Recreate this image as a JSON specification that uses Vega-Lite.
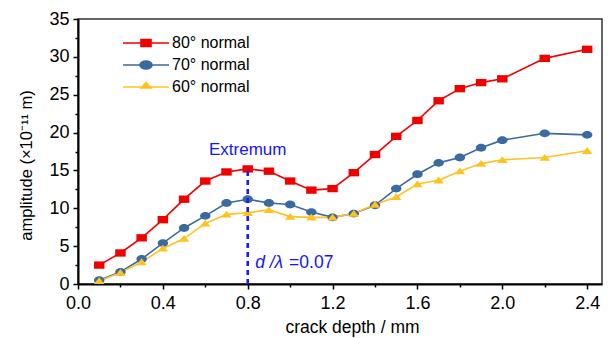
{
  "$schema": "https://vega.github.io/schema/vega-lite/v6.json",
  "width": 524,
  "height": 265,
  "autosize": {"type": "none"},
  "padding": {"left": 78, "top": 19, "right": 9, "bottom": 54},
  "config": {
    "font": "Liberation Sans",
    "view": {"stroke": "#333333", "strokeWidth": 1.5},
    "axis": {"grid": false, "domainColor": "#000000", "domainWidth": 2, "tickColor": "#000000", "tickWidth": 1.5, "labelColor": "#000000", "titleColor": "#000000", "labelFontSize": 18, "titleFontSize": 17, "titleFontWeight": "normal", "labelFlush": false},
    "legend": {"orient": "none", "legendX": 57, "legendY": 13, "symbolSize": 400, "symbolStrokeWidth": 1.6, "labelFontSize": 16, "labelOffset": 15, "labelColor": "#000000", "rowPadding": 3}
  },
  "data": {
    "values": [
      {"depth": 0.1, "amp": 2.5, "series": "80° normal"},
      {"depth": 0.2, "amp": 4.1, "series": "80° normal"},
      {"depth": 0.3, "amp": 6.1, "series": "80° normal"},
      {"depth": 0.4, "amp": 8.5, "series": "80° normal"},
      {"depth": 0.5, "amp": 11.2, "series": "80° normal"},
      {"depth": 0.6, "amp": 13.6, "series": "80° normal"},
      {"depth": 0.7, "amp": 14.8, "series": "80° normal"},
      {"depth": 0.8, "amp": 15.2, "series": "80° normal"},
      {"depth": 0.9, "amp": 14.9, "series": "80° normal"},
      {"depth": 1.0, "amp": 13.6, "series": "80° normal"},
      {"depth": 1.1, "amp": 12.4, "series": "80° normal"},
      {"depth": 1.2, "amp": 12.6, "series": "80° normal"},
      {"depth": 1.3, "amp": 14.7, "series": "80° normal"},
      {"depth": 1.4, "amp": 17.1, "series": "80° normal"},
      {"depth": 1.5, "amp": 19.5, "series": "80° normal"},
      {"depth": 1.6, "amp": 21.6, "series": "80° normal"},
      {"depth": 1.7, "amp": 24.2, "series": "80° normal"},
      {"depth": 1.8, "amp": 25.8, "series": "80° normal"},
      {"depth": 1.9, "amp": 26.6, "series": "80° normal"},
      {"depth": 2.0, "amp": 27.1, "series": "80° normal"},
      {"depth": 2.2, "amp": 29.8, "series": "80° normal"},
      {"depth": 2.4, "amp": 31.0, "series": "80° normal"},
      {"depth": 0.1, "amp": 0.5, "series": "70° normal"},
      {"depth": 0.2, "amp": 1.6, "series": "70° normal"},
      {"depth": 0.3, "amp": 3.3, "series": "70° normal"},
      {"depth": 0.4, "amp": 5.4, "series": "70° normal"},
      {"depth": 0.5, "amp": 7.4, "series": "70° normal"},
      {"depth": 0.6, "amp": 9.0, "series": "70° normal"},
      {"depth": 0.7, "amp": 10.7, "series": "70° normal"},
      {"depth": 0.8, "amp": 11.2, "series": "70° normal"},
      {"depth": 0.9, "amp": 10.7, "series": "70° normal"},
      {"depth": 1.0, "amp": 10.5, "series": "70° normal"},
      {"depth": 1.1, "amp": 9.5, "series": "70° normal"},
      {"depth": 1.2, "amp": 8.8, "series": "70° normal"},
      {"depth": 1.3, "amp": 9.3, "series": "70° normal"},
      {"depth": 1.4, "amp": 10.4, "series": "70° normal"},
      {"depth": 1.5, "amp": 12.6, "series": "70° normal"},
      {"depth": 1.6, "amp": 14.5, "series": "70° normal"},
      {"depth": 1.7, "amp": 16.0, "series": "70° normal"},
      {"depth": 1.8, "amp": 16.7, "series": "70° normal"},
      {"depth": 1.9, "amp": 18.0, "series": "70° normal"},
      {"depth": 2.0, "amp": 19.0, "series": "70° normal"},
      {"depth": 2.2, "amp": 19.9, "series": "70° normal"},
      {"depth": 2.4, "amp": 19.7, "series": "70° normal"},
      {"depth": 0.1, "amp": 0.4, "series": "60° normal"},
      {"depth": 0.2, "amp": 1.5, "series": "60° normal"},
      {"depth": 0.3, "amp": 2.9, "series": "60° normal"},
      {"depth": 0.4, "amp": 4.7, "series": "60° normal"},
      {"depth": 0.5, "amp": 6.0, "series": "60° normal"},
      {"depth": 0.6, "amp": 8.0, "series": "60° normal"},
      {"depth": 0.7, "amp": 9.2, "series": "60° normal"},
      {"depth": 0.8, "amp": 9.4, "series": "60° normal"},
      {"depth": 0.9, "amp": 9.8, "series": "60° normal"},
      {"depth": 1.0, "amp": 8.9, "series": "60° normal"},
      {"depth": 1.1, "amp": 8.8, "series": "60° normal"},
      {"depth": 1.2, "amp": 8.8, "series": "60° normal"},
      {"depth": 1.3, "amp": 9.3, "series": "60° normal"},
      {"depth": 1.4, "amp": 10.5, "series": "60° normal"},
      {"depth": 1.5, "amp": 11.5, "series": "60° normal"},
      {"depth": 1.6, "amp": 13.2, "series": "60° normal"},
      {"depth": 1.7, "amp": 13.7, "series": "60° normal"},
      {"depth": 1.8, "amp": 14.9, "series": "60° normal"},
      {"depth": 1.9, "amp": 15.9, "series": "60° normal"},
      {"depth": 2.0, "amp": 16.4, "series": "60° normal"},
      {"depth": 2.2, "amp": 16.7, "series": "60° normal"},
      {"depth": 2.4, "amp": 17.6, "series": "60° normal"}
    ]
  },
  "encoding": {
    "x": {
      "field": "depth", "type": "quantitative",
      "scale": {"domain": [0, 2.47], "nice": false, "zero": false},
      "axis": {
        "values": [0, 0.2, 0.4, 0.6, 0.8, 1.0, 1.2, 1.4, 1.6, 1.8, 2.0, 2.2, 2.4],
        "format": ".1f",
        "labelExpr": "round(datum.value * 10) % 4 === 0 ? datum.label : ''",
        "tickSize": {"condition": {"test": "round(datum.value * 10) % 4 === 0", "value": 5}, "value": 3},
        "labelPadding": 5,
        "title": "crack depth / mm",
        "titleFontSize": 17.5,
        "titleX": 274, "titleY": 48, "titleBaseline": "alphabetic", "titleAlign": "center"
      }
    },
    "y": {
      "field": "amp", "type": "quantitative",
      "scale": {"domain": [0, 35], "nice": false},
      "axis": {
        "values": [0, 2.5, 5, 7.5, 10, 12.5, 15, 17.5, 20, 22.5, 25, 27.5, 30, 32.5, 35],
        "labelExpr": "datum.value % 5 === 0 ? datum.label : ''",
        "tickSize": {"condition": {"test": "datum.value % 5 === 0", "value": 5}, "value": 3},
        "labelPadding": 4,
        "title": "amplitude (×10⁻¹¹ m)",
        "titleFontSize": 16.5,
        "titleX": -47, "titleY": 146, "titleBaseline": "alphabetic", "titleAlign": "center", "titleAngle": 270
      }
    }
  },
  "layer": [
    {
      "mark": {"type": "line", "strokeWidth": 1.6},
      "encoding": {
        "stroke": {"field": "series", "type": "nominal", "scale": {"domain": ["80° normal", "70° normal", "60° normal"], "range": ["#f20000", "#3a6aa0", "#ffc21f"]}, "legend": null}
      }
    },
    {
      "mark": {"type": "point", "filled": true, "opacity": 1, "size": 110},
      "encoding": {
        "color": {"field": "series", "type": "nominal", "scale": {"domain": ["80° normal", "70° normal", "60° normal"], "range": ["#f20000", "#3a6aa0", "#ffc21f"]}, "legend": null},
        "shape": {"field": "series", "type": "nominal", "scale": {"domain": ["80° normal", "70° normal", "60° normal"], "range": ["M-1,-0.7H1V0.7H-1Z", "M1,0A1,0.75 0 1,1 -1,0A1,0.75 0 1,1 1,0Z", "M-1,0.6L0,-0.7L1,0.6Z"]}, "legend": null}
      }
    },
    {
      "transform": [{"filter": "datum.amp > 100"}],
      "mark": {"type": "point", "filled": true, "opacity": 1, "strokeWidth": 1.6},
      "encoding": {
        "color": {"field": "series", "type": "nominal", "scale": {"domain": ["80° normal", "70° normal", "60° normal"], "range": ["#f20000", "#3a6aa0", "#ffc21f"]}, "legend": {"title": null}},
        "stroke": {"field": "series", "type": "nominal", "scale": {"domain": ["80° normal", "70° normal", "60° normal"], "range": ["#f20000", "#3a6aa0", "#ffc21f"]}, "legend": {"title": null}},
        "shape": {"field": "series", "type": "nominal", "scale": {"domain": ["80° normal", "70° normal", "60° normal"], "range": ["M-2.3,0H2.3M-0.5,-0.35H0.5V0.35H-0.5Z", "M-2.3,0H2.3M0.6,0A0.6,0.4 0 1,1 -0.6,0A0.6,0.4 0 1,1 0.6,0Z", "M-2.3,0H2.3M-0.5,0.1L0,-0.45L0.5,0.1Z"]}, "legend": {"title": null}}
      }
    },
    {
      "transform": [{"filter": "datum.series === '80° normal' && datum.depth === 0.8"}],
      "mark": {"type": "rule", "color": "#1a1aff", "strokeWidth": 2.6, "strokeDash": [5, 4]},
      "encoding": {"x": {"datum": 0.8}, "y": {"datum": 0}, "y2": {"field": "amp"}}
    },
    {
      "transform": [{"filter": "datum.series === '80° normal' && datum.depth === 0.8"}],
      "mark": {"type": "text", "text": "Extremum", "fill": "#1414ff", "fontSize": 17, "align": "center", "baseline": "alphabetic"},
      "encoding": {"x": {"datum": 0.8}, "y": {"datum": 17.0}}
    },
    {
      "transform": [{"filter": "datum.series === '80° normal' && datum.depth === 0.8"}],
      "mark": {"type": "text", "text": "d /λ", "fill": "#1414ff", "fontSize": 17.5, "fontStyle": "italic", "align": "left", "baseline": "alphabetic"},
      "encoding": {"x": {"datum": 0.835}, "y": {"datum": 2.1}}
    },
    {
      "transform": [{"filter": "datum.series === '80° normal' && datum.depth === 0.8"}],
      "mark": {"type": "text", "text": "=0.07", "fill": "#1414ff", "fontSize": 17.5, "align": "left", "baseline": "alphabetic"},
      "encoding": {"x": {"datum": 0.995}, "y": {"datum": 2.1}}
    }
  ],
  "resolve": {
    "scale": {"color": "independent", "stroke": "independent", "shape": "independent"},
    "legend": {"color": "independent", "stroke": "independent", "shape": "independent"}
  }
}
